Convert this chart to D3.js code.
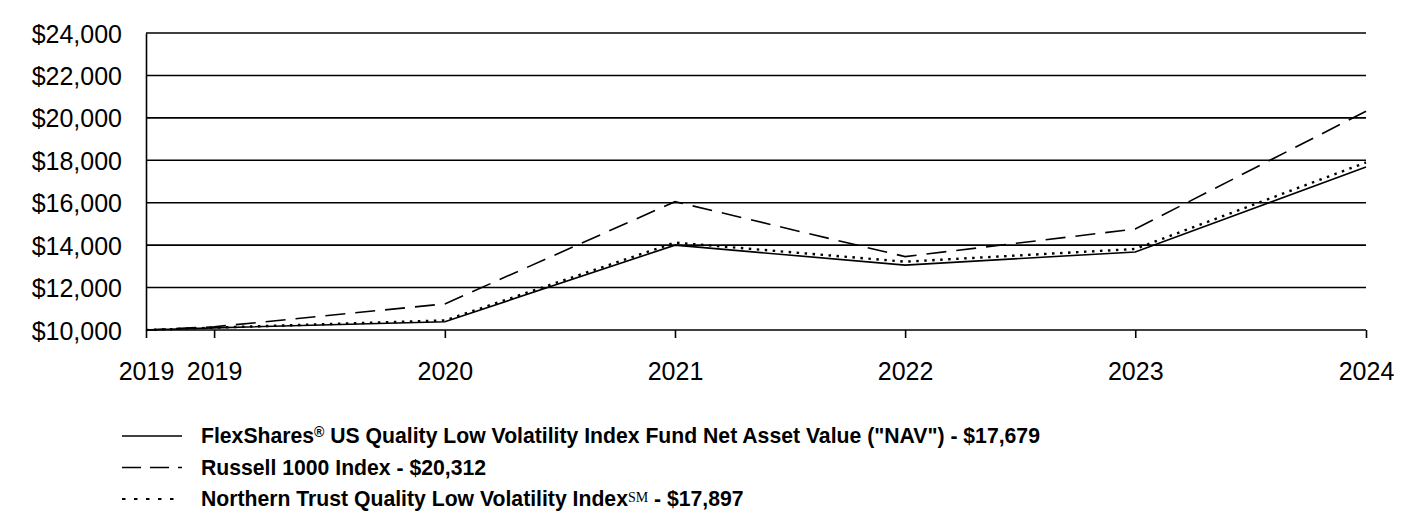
<!DOCTYPE html>
<html>
<head>
<meta charset="utf-8">
<script src="https://cdn.jsdelivr.net/npm/d3@7"></script>
<style>
  body { margin: 0; background: #fff; }
  text { font-family: "Liberation Sans", Arial, sans-serif; fill: #000; }
</style>
</head>
<body>
<svg id="chart" width="1416" height="516"></svg>
<script>
// data
var dates = ["2019-07-15", "2019-10-31", "2020-10-31", "2021-10-31", "2022-10-31", "2023-10-31", "2024-10-31"];
var navValues = [10000, 10100, 10390, 14000, 13060, 13680, 17679];
var russellValues = [10000, 10150, 11230, 16050, 13460, 14760, 20312];
var northernValues = [10000, 10110, 10450, 14120, 13220, 13820, 17897];
var yTicks = [10000, 12000, 14000, 16000, 18000, 20000, 22000, 24000];
var legendNames = [
  ["FlexShares", "®", " US Quality Low Volatility Index Fund Net Asset Value (\"NAV\") - $17,679"],
  ["Russell 1000 Index - $20,312", "", ""],
  ["Northern Trust Quality Low Volatility Index", "SM", " - $17,897"]
];

var parse = d3.timeParse("%Y-%m-%d");
var xDates = dates.map(parse);

var svg = d3.select("#chart"),
    plotLeft = 146, plotRight = 1366, plotTop = 33, plotBottom = 330;

var x = d3.scaleTime().domain([xDates[0], xDates[xDates.length - 1]]).range([plotLeft, plotRight]);
var y = d3.scaleLinear().domain([10000, 24000]).range([plotBottom, plotTop]);

/* gridlines */
svg.append("g").selectAll("line")
  .data(yTicks.slice(1))
  .enter().append("line")
  .attr("x1", plotLeft).attr("x2", plotRight)
  .attr("y1", function(d) { return y(d); })
  .attr("y2", function(d) { return y(d); })
  .attr("stroke", "#000").attr("stroke-width", 1.6);

/* y axis */
var yAxis = svg.append("g")
  .attr("transform", "translate(" + plotLeft + ",0)")
  .call(d3.axisLeft(y).tickValues(yTicks).tickSize(0).tickPadding(24)
    .tickFormat(function(d) { return "$" + d3.format(",")(d); }));
yAxis.select(".domain").attr("stroke", "#000").attr("stroke-width", 1.6);
yAxis.selectAll("text").style("font-size", "25px").attr("dy", "0.36em")
  .style("font-family", "'Liberation Sans', Arial, sans-serif");

/* x axis */
var xAxis = svg.append("g")
  .attr("transform", "translate(0," + plotBottom + ")")
  .call(d3.axisBottom(x).tickValues(xDates).tickSize(8).tickPadding(24)
    .tickFormat(d3.timeFormat("%Y")));
xAxis.select(".domain").attr("stroke", "#000").attr("stroke-width", 1.6)
  .attr("d", "M" + plotLeft + ",0H" + plotRight);
xAxis.selectAll(".tick line").attr("stroke", "#000").attr("stroke-width", 1.6);
xAxis.selectAll("text").style("font-size", "25px")
  .style("font-family", "'Liberation Sans', Arial, sans-serif");

/* series lines */
var series = [
  { values: navValues, dash: null },
  { values: russellValues, dash: "20,10" },
  { values: northernValues, dash: "2.5,5.5" }
];

var line = d3.line()
  .x(function(d, i) { return x(xDates[i]); })
  .y(function(d) { return y(d); });

svg.append("g").selectAll("path")
  .data(series)
  .enter().append("path")
  .attr("d", function(d) { return line(d.values); })
  .attr("fill", "none")
  .attr("stroke", "#000")
  .attr("stroke-width", function(d, i) { return i == 2 ? 2.4 : 1.6; })
  .attr("stroke-dasharray", function(d) { return d.dash; });

/* legend */
var legendDash = [null, "19,9", "3.5,8.5"];
var leg = svg.append("g").selectAll("g")
  .data(legendNames)
  .enter().append("g")
  .attr("transform", function(d, i) { return "translate(0," + (436 + i * 31.5) + ")"; });

leg.append("line")
  .attr("x1", 122).attr("x2", 182)
  .attr("stroke", "#000")
  .attr("stroke-width", function(d, i) { return i == 2 ? 2.2 : 1.6; })
  .attr("stroke-dasharray", function(d, i) { return legendDash[i]; });

var lt = leg.append("text")
  .attr("x", 201)
  .attr("dy", "0.35em")
  .style("font-size", "21.2px")
  .style("font-weight", "bold");
lt.append("tspan").text(function(d) { return d[0]; });
lt.append("tspan")
  .text(function(d) { return d[1]; })
  .attr("baseline-shift", function(d) { return d[1] == "®" ? "40%" : "4px"; })
  .style("font-size", "14px")
  .style("font-family", function(d) { return d[1] == "SM" ? "'Liberation Serif', serif" : null; })
  .style("font-weight", function(d) { return d[1] == "SM" ? "normal" : "bold"; });
lt.append("tspan").text(function(d) { return d[2]; });
</script>
</body>
</html>
